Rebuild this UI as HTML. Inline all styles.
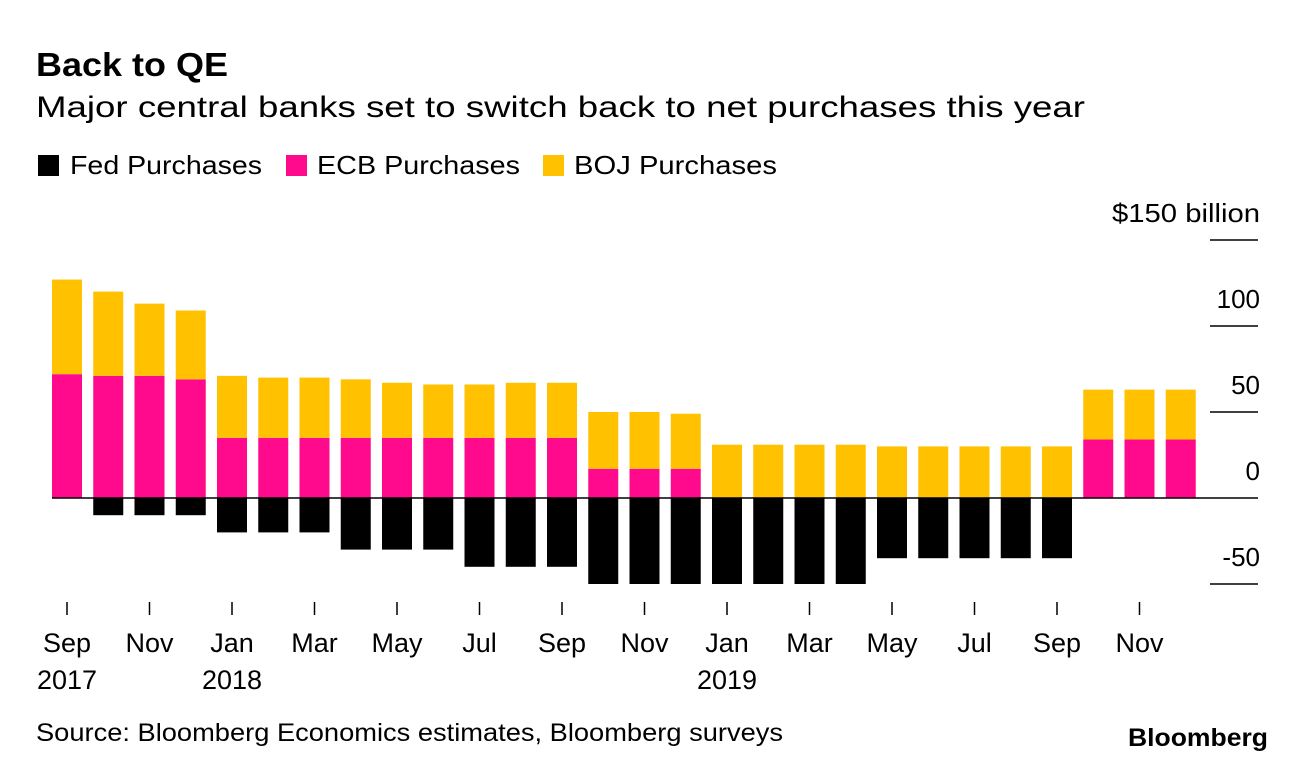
<!DOCTYPE html>
<html><head><meta charset="utf-8"><style>
body{margin:0;background:#fff;font-family:"Liberation Sans",sans-serif;}
svg{display:block}
</style></head><body>
<svg width="1296" height="762">
<text x="36" y="76" font-size="33" font-weight="bold" fill="#000" textLength="192" lengthAdjust="spacingAndGlyphs">Back to QE</text>
<text x="36" y="117" font-size="30" fill="#000" textLength="1049" lengthAdjust="spacingAndGlyphs">Major central banks set to switch back to net purchases this year</text>
<g>
<rect x="38" y="155" width="21" height="21" fill="#000"/>
<text x="70" y="174" font-size="26" textLength="192" lengthAdjust="spacingAndGlyphs">Fed Purchases</text>
<rect x="286" y="155" width="21" height="21" fill="#ff0a8c"/>
<text x="317" y="174" font-size="26" textLength="203" lengthAdjust="spacingAndGlyphs">ECB Purchases</text>
<rect x="543" y="155" width="21" height="21" fill="#ffc100"/>
<text x="574" y="174" font-size="26" textLength="203" lengthAdjust="spacingAndGlyphs">BOJ Purchases</text>
</g>
<g id="plot"></g>
<text x="36" y="741" font-size="25" textLength="747" lengthAdjust="spacingAndGlyphs">Source: Bloomberg Economics estimates, Bloomberg surveys</text>
<text x="1128" y="746" font-size="25" font-weight="bold" textLength="140" lengthAdjust="spacingAndGlyphs">Bloomberg</text>
</svg>
<script>
const fed=[0,-10,-10,-10,-20,-20,-20,-30,-30,-30,-40,-40,-40,-50,-50,-50,-50,-50,-50,-50,-35,-35,-35,-35,-35,0,0,0];
const ecb=[72,71,71,69,35,35,35,35,35,35,35,35,35,17,17,17,0,0,0,0,0,0,0,0,0,34,34,34];
const boj=[55,49,42,40,36,35,35,34,32,31,31,32,32,33,33,32,31,31,31,31,30,30,30,30,30,29,29,29];
const yTicks=[150,100,50,0,-50];
const yTickLabels=["$150 billion","100","50","0","-50"];
const xLabels=["Sep","Nov","Jan","Mar","May","Jul","Sep","Nov","Jan","Mar","May","Jul","Sep","Nov"];
const yearLabels={0:"2017",2:"2018",8:"2019"};
const NS="http://www.w3.org/2000/svg";
const g=document.getElementById('plot');
const y0=498,k=1.72;
function Y(v){return y0-v*k;}
function X(i){return 67+i*41.25;}
const bw=30;
function mk(t,a){const e=document.createElementNS(NS,t);for(const n in a)e.setAttribute(n,a[n]);g.appendChild(e);return e;}
yTicks.forEach((v,i)=>{
  if(v!==0){const l=mk('line',{x1:1210,x2:1258,y1:Y(v),y2:Y(v),stroke:'#000','stroke-width':1.5});
  
  }
  const a={x:1260,y:Y(v)-18,'font-size':26,'text-anchor':'end'};
  if(i===0){a.textLength=148;a.lengthAdjust='spacingAndGlyphs';}
  const t=mk('text',a);
  t.textContent=yTickLabels[i];
  
  
});
for(let i=0;i<fed.length;i++){
  const x=X(i)-bw/2;
  if(fed[i]<0){const r=mk('rect',{x:x,y:y0,width:bw,height:-fed[i]*k,fill:'#000'});
    
    }
  if(ecb[i]>0){const r=mk('rect',{x:x,y:Y(ecb[i]),width:bw,height:ecb[i]*k,fill:'#ff0a8c'});
    
    }
  const r=mk('rect',{x:x,y:Y(ecb[i]+boj[i]),width:bw,height:boj[i]*k,fill:'#ffc100'});
  
  
}
const z=mk('line',{x1:52,x2:1258,y1:y0,y2:y0,stroke:'#000','stroke-width':1.5});


xLabels.forEach((s,j)=>{
  const x=X(j*2);
  const tk=mk('line',{x1:x,x2:x,y1:602,y2:615,stroke:'#000','stroke-width':1.5});
  
  
  const t=mk('text',{x:x,y:652,'font-size':27,'text-anchor':'middle'});
  t.textContent=s;
  
  
  if(yearLabels[j]){const yt=mk('text',{x:x,y:689,'font-size':27,'text-anchor':'middle'});
    yt.textContent=yearLabels[j];
    
    }
});
</script>
</body></html>
